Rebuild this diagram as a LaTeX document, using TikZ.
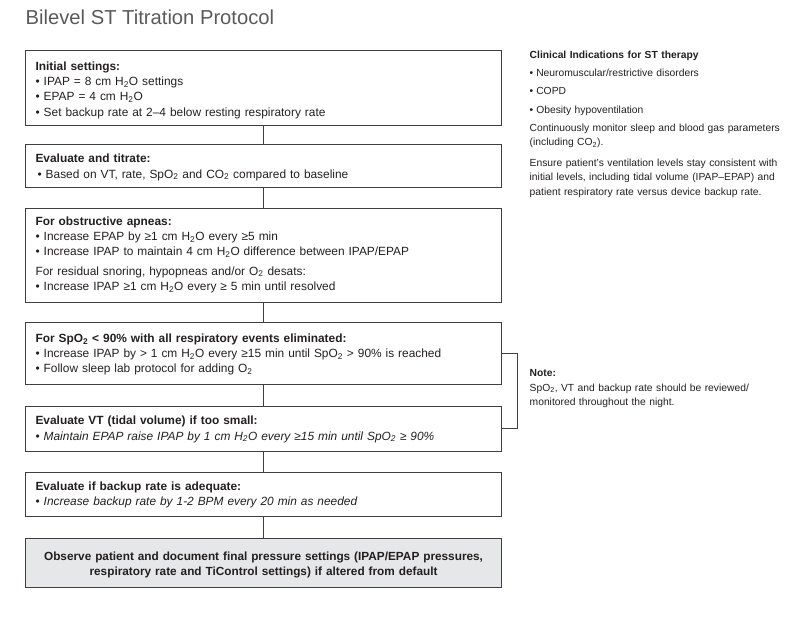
\documentclass[tikz,border=0pt]{standalone}
\usepackage{fontspec}
\setmainfont{Liberation Sans}
\definecolor{linec}{HTML}{3F3F3F}
\definecolor{txtc}{HTML}{231F20}
\definecolor{titlec}{HTML}{5A5A5A}
\definecolor{fillc}{HTML}{E6E7E8}
\newcommand\Ts[1]{\rule{0pt}{#1pt}}
\newcommand\Bs[1]{\rule[-#1pt]{0pt}{#1pt}}
\newcommand\bul{•\hspace{4pt}}
\newcommand\sbul{•\hspace{3pt}}
\newcommand\sub{\textsubscript{2}}
\tikzset{
  box/.style={draw=linec, line width=1.1pt, text=txtc, text width=456pt,
    inner xsep=10pt, inner ysep=0pt, align=left, anchor=north west,
    font=\fontsize{11.9pt}{15.2pt}\selectfont},
  endbox/.style={box, fill=fillc, align=center,
    font=\fontsize{11.8pt}{14.5pt}\selectfont\bfseries},
  conn/.style={draw=linec, line width=1.1pt},
  side/.style={text=txtc, inner sep=0pt, align=left, anchor=base west,
    font=\fontsize{10.3pt}{14.5pt}\selectfont},
  titlestyle/.style={text=titlec, inner sep=0pt, anchor=base west,
    font=\fontsize{20.2pt}{24pt}\selectfont}
}
\begin{document}
\begin{tikzpicture}[x=1pt,y=-1pt]
\path[use as bounding box] (0,0) rectangle (794,644);
\node[titlestyle] (title) at (25.5,25) {Bilevel ST Titration Protocol};

\node[box] (b1) at (25,50) {\Ts{20}\textbf{Initial settings:}\\
 \bul IPAP = 8 cm H\sub O settings\\
 \bul EPAP = 4 cm H\sub O\\
 \bul Set backup rate at 2–4 below resting respiratory rate\Bs{9.4}};

\node[box] (b2) at (25,144.3) {\Ts{18}\textbf{Evaluate and titrate:}\\
 \hspace{2pt}\bul Based on VT, rate, SpO\sub{} and CO\sub{} compared to baseline\Bs{9.8}};

\node[box] (b3) at (25,207.7) {\Ts{17.3}\textbf{For obstructive apneas:}\\
 \bul Increase EPAP by ≥1 cm H\sub O every ≥5 min\\
 \bul Increase IPAP to maintain 4 cm H\sub O difference between IPAP/EPAP\\[4pt]
 For residual snoring, hypopneas and/or O\sub{} desats:\\
 \bul Increase IPAP ≥1 cm H\sub O every ≥ 5 min until resolved\Bs{11.9}};

\node[box] (b4) at (25,321.7) {\Ts{20.3}\textbf{For SpO\sub{} < 90\% with all respiratory events eliminated:}\\
 \bul Increase IPAP by > 1 cm H\sub O every ≥15 min until SpO\sub{} > 90\% is reached\\
 \bul Follow sleep lab protocol for adding O\sub\Bs{11.6}};

\node[box] (b5) at (25,405.7) {\Ts{18.6}\textbf{Evaluate VT (tidal volume) if too small:}\\
 \bul\textit{Maintain EPAP raise IPAP by 1 cm H\sub O every ≥15 min until SpO\sub{} ≥ 90\%}\Bs{11.2}};

\node[box] (b6) at (25,471.7) {\Ts{18.3}\textbf{Evaluate if backup rate is adequate:}\\
 \bul\textit{Increase backup rate by 1-2 BPM every 20 min as needed}\Bs{10.8}};

\node[endbox] (b7) at (25,538.3) {\Ts{21.7}Observe patient and document final pressure settings (IPAP/EPAP pressures,\\
 respiratory rate and TiControl settings) if altered from default\Bs{12.8}};

\draw[conn] (b1.south) -- (b2.north);
\draw[conn] (b2.south) -- (b3.north);
\draw[conn] (b3.south) -- (b4.north);
\draw[conn] (b4.south) -- (b5.north);
\draw[conn] (b5.south) -- (b6.north);
\draw[conn] (b6.south) -- (b7.north);
\draw[conn] (b4.east) -- ++(15,0) |- (b5.east);

\node[side, text width=264pt] (clin) at (529.5,59) {\textbf{Clinical Indications for ST therapy}\\[3.2pt]
 \sbul Neuromuscular/restrictive disorders\\[3.8pt]
 \sbul COPD\\[3.6pt]
 \sbul Obesity hypoventilation\\[3.5pt]
 Continuously monitor sleep and blood gas parameters\\
 (including CO\sub).\\[6pt]
 Ensure patient’s ventilation levels stay consistent with\\
 initial levels, including tidal volume (IPAP–EPAP) and\\
 patient respiratory rate versus device backup rate.};

\node[side, text width=250pt] (note) at (529.5,376.7) {\textbf{Note:}\\
 SpO\sub, VT and backup rate should be reviewed/\\
 monitored throughout the night.};
\end{tikzpicture}
\end{document}
